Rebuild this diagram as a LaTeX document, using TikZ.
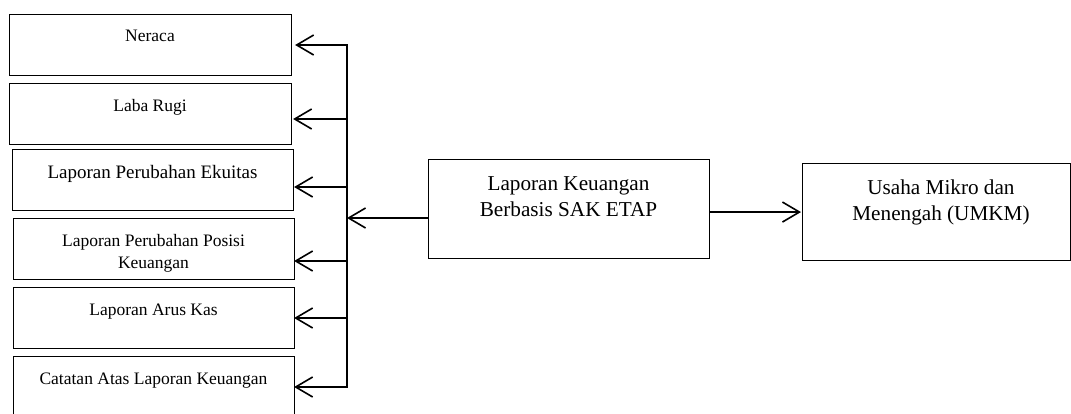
\documentclass[tikz,border=0pt]{standalone}
\usepackage{fontspec}
\setmainfont{Liberation Serif}
\usetikzlibrary{arrows.meta}
\begin{document}
\begin{tikzpicture}[x=1pt,y=-1pt,
  box/.style={draw, line width=1.1pt, inner sep=0pt, anchor=north west},
  trunk/.style={line width=1.6pt, line cap=rect},
  conn/.style={line width=1.6pt, -{Straight Barb[length=17pt,width=20pt,line width=1.6pt]}},
  small/.style={font=\fontsize{17.5}{22}\selectfont, align=center, inner sep=0pt, anchor=base},
  big/.style={font=\fontsize{21.2}{25.5}\selectfont, align=center, inner sep=0pt, anchor=base}]
\useasboundingbox (0,0) rectangle (1071,413);
\clip (0,0) rectangle (1071,413);
% boxes
\node[box, minimum width=282pt, minimum height=61pt] (b1) at (9,14) {};
\node[box, minimum width=282pt, minimum height=61pt] (b2) at (9,83) {};
\node[box, minimum width=281pt, minimum height=61pt] (b3) at (12,149) {};
\node[box, minimum width=281pt, minimum height=61pt] (b4) at (13,218) {};
\node[box, minimum width=281pt, minimum height=61pt] (b5) at (13,287) {};
\node[box, minimum width=281pt, minimum height=80pt] (b6) at (13,356) {};
\node[box, minimum width=281pt, minimum height=99pt] (c) at (428,159) {};
\node[box, minimum width=268pt, minimum height=97pt] (u) at (802,163) {};
% texts (base anchor = baseline of the last line)
\node[small] (t1) at (150,41.7) {Neraca};
\node[small] (t2) at (150,111) {Laba Rugi};
\node[small, font=\fontsize{19}{22}\selectfont] (t3) at (152.5,178) {Laporan Perubahan Ekuitas};
\node[small] (t4) at (153.5,268) {Laporan Perubahan Posisi\\Keuangan};
\node[small] (t5) at (153.5,315) {Laporan Arus Kas};
\node[small] (t6) at (153.5,384) {Catatan Atas Laporan Keuangan};
\node[big] (tc) at (568.5,216) {Laporan Keuangan\\Berbasis SAK ETAP};
\node[big] (tu) at (941,220) {Usaha Mikro dan\\Menengah (UMKM)};
% connectors
\coordinate (j1) at (347,45);
\coordinate (j2) at (347,119);
\coordinate (j3) at (347,187);
\coordinate (j4) at (347,261);
\coordinate (j5) at (347,318);
\coordinate (j6) at (347,387);
\coordinate (jc) at (347,218);
\draw[trunk] (j1) -- (j6);
\draw[conn, shorten >=3pt] (j1) -- (b1.east |- j1);
\draw[conn, shorten >=1pt] (j2) -- (b2.east |- j2);
\draw[conn, shorten >=0pt] (j3) -- (b3.east |- j3);
\draw[conn, shorten >=-1pt] (j4) -- (b4.east |- j4);
\draw[conn, shorten >=-1pt] (j5) -- (b5.east |- j5);
\draw[conn, shorten >=-1pt] (j6) -- (b6.east |- j6);
\draw[conn] (c.west |- jc) -- (jc);
\draw[conn, shorten >=1pt] (c.east |- u.west) -- (u.west);
\end{tikzpicture}
\end{document}
